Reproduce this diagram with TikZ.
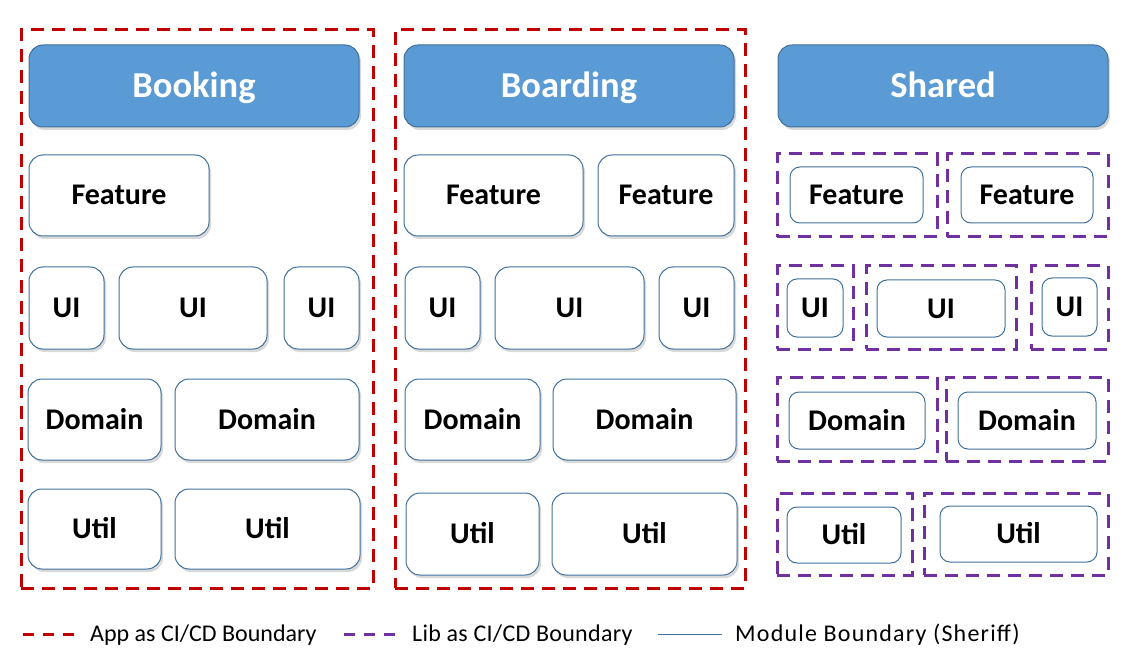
\documentclass[tikz,border=0pt]{standalone}
\usepackage{fontspec}
\setmainfont{Carlito}
\usetikzlibrary{shadows}
\definecolor{hdrfill}{HTML}{5B9BD5}
\definecolor{hdrline}{HTML}{41719C}
\definecolor{appred}{HTML}{C00000}
\definecolor{libpurple}{HTML}{7030A0}
\tikzset{
  boxat/.style n args={4}{minimum width={(#3-#1)*1pt}, minimum height={(#4-#2)*1pt}, at={({(#1+#3)/2},{(#2+#4)/2})}},
  hdr/.style={draw=hdrline, line width=1pt, fill=hdrfill, rounded corners=14pt, inner sep=0pt, text=white, font=\fontsize{36.5}{40}\selectfont\bfseries, text height=23pt, text depth=0pt, drop shadow={shadow xshift=2pt, shadow yshift=-3pt, opacity=0.3}},
  modbox/.style={draw=hdrline, line width=1pt, fill=white, rounded corners=14pt, inner sep=0pt, font=\fontsize{30}{34}\selectfont\bfseries, text height=19pt, text depth=0pt, drop shadow={shadow xshift=2pt, shadow yshift=-3pt, opacity=0.3}},
  libmod/.style={draw=hdrline, line width=1pt, fill=white, rounded corners=10pt, inner sep=0pt, font=\fontsize{30}{34}\selectfont\bfseries, text height=19pt, text depth=0pt},
  appbound/.style={draw=appred, line width=3pt, dash pattern=on 13pt off 8pt, inner sep=0pt},
  libbound/.style={draw=libpurple, line width=3pt, dash pattern=on 13pt off 8pt, inner sep=0pt},
  legtext/.style={anchor=west, inner sep=0pt, font=\fontsize{24}{28}\selectfont, text height=15pt, text depth=0pt},
}
\begin{document}
\begin{tikzpicture}[x=1pt, y=-1pt]
\useasboundingbox (0,0) rectangle (1133,663);
% app boundaries
\node[appbound, boxat={21}{30}{373}{588}] (appA) {};
\node[appbound, boxat={395}{30}{745}{588}] (appB) {};
% headers
\node[hdr, boxat={29}{45}{359}{127}] (hBooking) {Booking};
\node[hdr, boxat={404}{45}{734}{127}] (hBoarding) {Boarding};
\node[hdr, boxat={778}{45}{1108}{127}] (hShared) {Shared};
% Booking column
\node[modbox, boxat={29}{155}{209}{236}] (bkF) {Feature};
\node[modbox, boxat={29}{267}{104}{349}] (bkU1) {UI};
\node[modbox, boxat={119}{267}{267}{349}] (bkU2) {UI};
\node[modbox, boxat={284}{267}{359}{349}] (bkU3) {UI};
\node[modbox, boxat={28}{379}{161}{460}] (bkD1) {Domain};
\node[modbox, boxat={175}{379}{359}{460}] (bkD2) {Domain};
\node[modbox, boxat={28}{489}{161}{569}] (bkT1) {Util};
\node[modbox, boxat={175}{489}{360}{569}] (bkT2) {Util};
% Boarding column
\node[modbox, boxat={404}{155}{583}{236}] (bdF1) {Feature};
\node[modbox, boxat={598}{155}{734}{236}] (bdF2) {Feature};
\node[modbox, boxat={405}{267}{480}{349}] (bdU1) {UI};
\node[modbox, boxat={495}{267}{644}{349}] (bdU2) {UI};
\node[modbox, boxat={659}{267}{734}{349}] (bdU3) {UI};
\node[modbox, boxat={405}{379}{540}{460}] (bdD1) {Domain};
\node[modbox, boxat={553}{379}{736}{460}] (bdD2) {Domain};
\node[modbox, boxat={406}{493}{539}{575}] (bdT1) {Util};
\node[modbox, boxat={552}{493}{737}{575}] (bdT2) {Util};
% Shared: lib boundaries
\node[libbound, boxat={777}{154}{937}{237}] (lF1) {};
\node[libbound, boxat={947}{154}{1108}{237}] (lF2) {};
\node[libbound, boxat={777}{266}{853}{349}] (lU1) {};
\node[libbound, boxat={866}{266}{1016}{349}] (lU2) {};
\node[libbound, boxat={1031}{266}{1108}{349}] (lU3) {};
\node[libbound, boxat={777}{377}{937}{461}] (lD1) {};
\node[libbound, boxat={946}{377}{1108}{461}] (lD2) {};
\node[libbound, boxat={777}{493}{912}{575}] (lT1) {};
\node[libbound, boxat={924}{493}{1108}{575}] (lT2) {};
% Shared: modules
\node[libmod, boxat={790}{167}{923}{223}] (shF1) {Feature};
\node[libmod, boxat={961}{167}{1093}{223}] (shF2) {Feature};
\node[libmod, boxat={787}{279}{843}{337}] (shU1) {UI};
\node[libmod, boxat={877}{280}{1005}{337}] (shU2) {UI};
\node[libmod, boxat={1042}{278}{1097}{336}] (shU3) {UI};
\node[libmod, boxat={789}{392}{925}{449}] (shD1) {Domain};
\node[libmod, boxat={958}{392}{1096}{449}] (shD2) {Domain};
\node[libmod, boxat={787}{507}{901}{563}] (shT1) {Util};
\node[libmod, boxat={940}{506}{1097}{562}] (shT2) {Util};
% legend
\coordinate (lgA1) at (23,634);
\coordinate (lgA2) at (77,634);
\coordinate (lgB1) at (344,634);
\coordinate (lgB2) at (398,634);
\coordinate (lgC1) at (658,634);
\coordinate (lgC2) at (722,634);
\draw[draw=appred, line width=3pt, dash pattern=on 11pt off 9pt] (lgA1) -- (lgA2);
\draw[draw=libpurple, line width=3pt, dash pattern=on 11pt off 9pt] (lgB1) -- (lgB2);
\draw[draw=hdrline, line width=1pt] (lgC1) -- (lgC2);
\node[legtext] (tA) at (90,634) {App as CI/CD Boundary};
\node[legtext] (tB) at (412,634) {\addfontfeature{LetterSpace=1.2}Lib as CI/CD Boundary};
\node[legtext] (tC) at (735,634) {\addfontfeature{LetterSpace=5}Module Boundary (Sheriff)};
\end{tikzpicture}
\end{document}
